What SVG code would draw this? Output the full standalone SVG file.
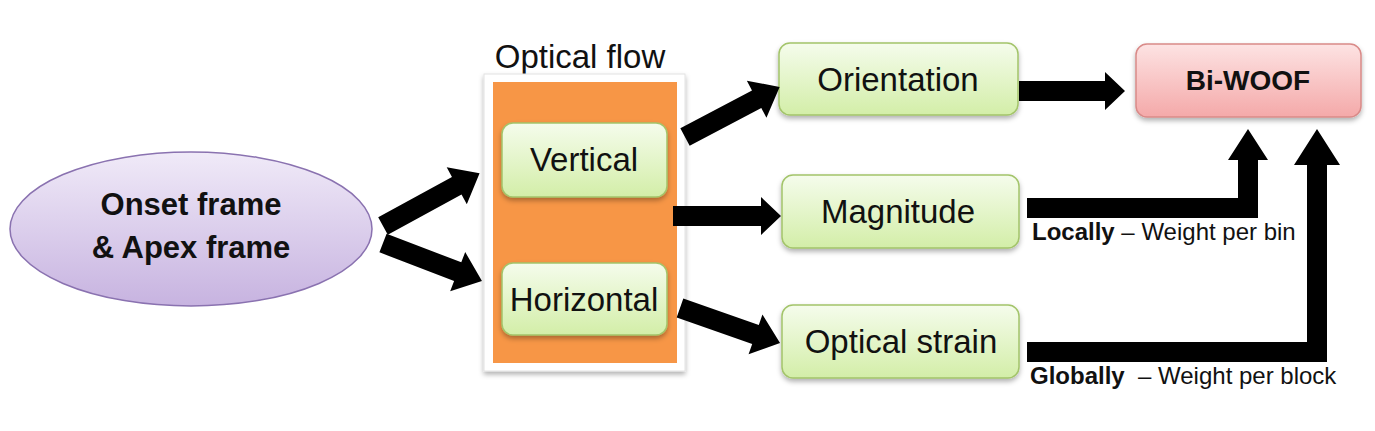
<svg xmlns="http://www.w3.org/2000/svg" width="1375" height="431" viewBox="0 0 1375 431">
  <defs>
    <linearGradient id="gGreen" x1="0" y1="0" x2="0" y2="1">
      <stop offset="0" stop-color="#f5fcec"/>
      <stop offset="1" stop-color="#d3eea8"/>
    </linearGradient>
    <linearGradient id="gPink" x1="0" y1="0" x2="0" y2="1">
      <stop offset="0" stop-color="#fde3e3"/>
      <stop offset="1" stop-color="#f4a9a9"/>
    </linearGradient>
    <linearGradient id="gPurple" x1="0" y1="0" x2="0" y2="1">
      <stop offset="0" stop-color="#f0eaf8"/>
      <stop offset="1" stop-color="#c7b3e0"/>
    </linearGradient>
    <filter id="shadow" x="-10%" y="-10%" width="120%" height="130%">
      <feDropShadow dx="0" dy="3" stdDeviation="2.5" flood-color="#000" flood-opacity="0.3"/>
    </filter>
  </defs>
  <style>
    .green { fill: url(#gGreen); stroke: #a3c46a; stroke-width: 1.5; filter: url(#shadow); }
    .pink { fill: url(#gPink); stroke: #d98a88; stroke-width: 1.5; filter: url(#shadow); }
    .lbl { font-family: "Liberation Sans", Arial, sans-serif; font-size: 33px; fill: #111; text-anchor: middle; }
    .big { font-size: 31px; font-weight: bold; }
    .bw { font-size: 28px; font-weight: bold; }
    .note { font-family: "Liberation Sans", Arial, sans-serif; font-size: 24px; fill: #111; white-space: pre; }
    .arrow { fill: #000; }
  </style>
  <rect width="1375" height="431" fill="#fff"/>

  <g id="onset">
    <ellipse cx="191" cy="229" rx="181" ry="77" fill="url(#gPurple)" stroke="#8a72b0" stroke-width="1.5"/>
    <text class="lbl big" x="191" y="215">Onset frame</text>
    <text class="lbl big" x="191" y="258">&amp; Apex frame</text>
  </g>

  <g id="optical-flow">
    <text class="lbl" x="580" y="68">Optical flow</text>
    <rect x="484" y="74" width="201" height="297" fill="#fff" stroke="#e2e2e2" stroke-width="1" filter="url(#shadow)"/>
    <rect x="493" y="82" width="184" height="281" fill="#f79646"/>
  </g>

  <g id="vertical">
    <rect class="green" x="502" y="123" width="165" height="74" rx="11"/>
    <text class="lbl" x="584" y="171">Vertical</text>
  </g>

  <g id="horizontal">
    <rect class="green" x="502" y="263" width="165" height="72" rx="11"/>
    <text class="lbl" x="584" y="311">Horizontal</text>
  </g>

  <g id="orientation">
    <rect class="green" x="779" y="43" width="239" height="72" rx="11"/>
    <text class="lbl" x="898" y="91">Orientation</text>
  </g>

  <g id="magnitude">
    <rect class="green" x="782" y="175" width="237" height="73" rx="11"/>
    <text class="lbl" x="898" y="223">Magnitude</text>
  </g>

  <g id="optical-strain">
    <rect class="green" x="782" y="305" width="237" height="73" rx="11"/>
    <text class="lbl" x="901" y="353">Optical strain</text>
  </g>

  <g id="biwoof">
    <rect class="pink" x="1136" y="44" width="225" height="73" rx="11"/>
    <text class="lbl bw" x="1248" y="90">Bi-WOOF</text>
  </g>

  <g id="connectors">
    <path class="arrow" transform="translate(383,226) rotate(-28.6)" d="M0,-10 H84 V-21 L110,0 L84,21 V10 H0 Z"/>
    <path class="arrow" transform="translate(383,243) rotate(21)" d="M0,-10 H80 V-21 L106,0 L80,21 V10 H0 Z"/>
    <path class="arrow" transform="translate(685,137) rotate(-27.8)" d="M0,-10 H81 V-21 L107,0 L81,21 V10 H0 Z"/>
    <path class="arrow" d="M673,206 H761 V197 L781,216 L761,235 V226 H673 Z"/>
    <path class="arrow" transform="translate(680,308) rotate(19.3)" d="M0,-10 H80 V-21 L106,0 L80,21 V10 H0 Z"/>
    <path class="arrow" d="M1019,81 H1105 V72 L1125,91 L1105,110 V101 H1019 Z"/>
    <path class="arrow" d="M1027,198 H1238 V160 H1228 L1248,129 L1268,160 H1258 V218 H1027 Z"/>
    <path class="arrow" d="M1027,342 H1307 V165 H1294 L1317,129 L1340,165 H1327 V362 H1027 Z"/>
    <text class="note" x="1032" y="240"><tspan font-weight="bold">Locally</tspan> – Weight per bin</text>
    <text class="note" x="1030" y="384"><tspan font-weight="bold">Globally</tspan>  – Weight per block</text>
  </g>
</svg>
